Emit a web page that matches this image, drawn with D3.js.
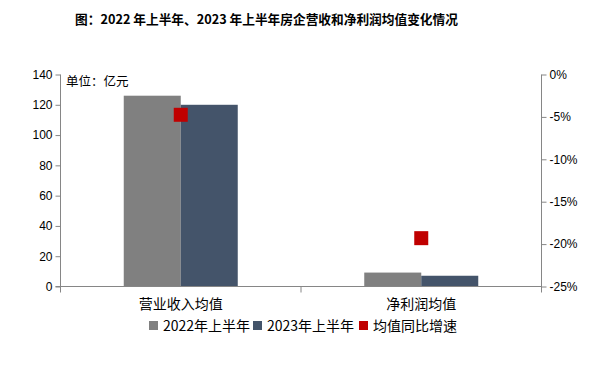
<!DOCTYPE html>
<html><head><meta charset="utf-8">
<script src="https://cdn.jsdelivr.net/npm/d3@7"></script>
<style>
body{margin:0;background:#fff;}
text{font-family:"Liberation Sans","Noto Sans CJK SC",sans-serif;}
</style></head>
<body><svg id="c" width="596" height="367"></svg>
<script>
const categories = ["营业收入均值", "净利润均值"];
const series2022 = [126, 9.2];
const series2023 = [120, 7.1];
const growth = [-4.75, -19.3];
const leftTicks = [0, 20, 40, 60, 80, 100, 120, 140];
const rightTicks = [0, -5, -10, -15, -20, -25];
const seriesNames = ["2022年上半年", "2023年上半年", "均值同比增速"];
const colors = ["#808080", "#44546A", "#C00000"];

const svg = d3.select("#c");
const L = 60.5, R = 541.5, T = 74.5, B = 286.5;
const axisColor = "#868686";
const font = '"Liberation Sans","Noto Sans CJK SC",sans-serif';

svg.append("text").attr("x", 266.5).attr("y", 24).attr("text-anchor", "middle")
  .attr("font-size", 12.7).attr("font-weight", "bold").attr("fill", "#000")
  .style("font-family", '"Noto Sans CJK SC",sans-serif')
  .text("图：2022 年上半年、2023 年上半年房企营收和净利润均值变化情况");

const x = d3.scaleBand().domain(categories).range([L, R]);
const yL = d3.scaleLinear().domain([0, 140]).range([B, T]);
const yR = d3.scaleLinear().domain([-25, 0]).range([B, T]);
const bw = 57;

// bars
const g = svg.append("g");
[series2022, series2023].forEach((s, i) => {
  g.selectAll(null).data(categories).enter().append("rect")
    .attr("x", d => x(d) + x.bandwidth() / 2 - bw + i * bw)
    .attr("width", bw)
    .attr("y", (d, j) => yL(s[j]))
    .attr("height", (d, j) => B - yL(s[j]))
    .attr("fill", colors[i]);
});

// left axis
const ax = svg.append("g").attr("transform", `translate(${L},0)`)
  .call(d3.axisLeft(yL).tickValues(leftTicks).tickSize(5).tickPadding(3));
ax.select(".domain").attr("stroke", axisColor).attr("d", `M-0,${T}V${B}`);
ax.selectAll(".tick line").attr("stroke", axisColor);
ax.selectAll(".tick text").attr("font-size", 12).attr("fill", "#000").style("font-family", font);

// right axis
const ar = svg.append("g").attr("transform", `translate(${R},0)`)
  .call(d3.axisRight(yR).tickValues(rightTicks).tickSize(5).tickPadding(3).tickFormat(d => d + "%"));
ar.select(".domain").attr("stroke", axisColor).attr("d", `M0,${T}V${B + 6}`);
ar.selectAll(".tick line").attr("stroke", axisColor);
ar.selectAll(".tick text").attr("font-size", 12).attr("fill", "#000").style("font-family", font);

// x axis
svg.append("line").attr("x1", L - 5).attr("x2", R).attr("y1", B).attr("y2", B).attr("stroke", axisColor);
svg.append("line").attr("x1", L).attr("x2", L).attr("y1", B).attr("y2", B + 6).attr("stroke", axisColor);
svg.append("line").attr("x1", x(categories[1])).attr("x2", x(categories[1])).attr("y1", B).attr("y2", B + 6).attr("stroke", axisColor);

svg.selectAll(null).data(categories).enter().append("text")
  .attr("x", d => x(d) + x.bandwidth() / 2).attr("y", 309)
  .attr("text-anchor", "middle").attr("font-size", 14).attr("fill", "#000")
  .style("font-family", '"Noto Sans CJK SC",sans-serif')
  .text(d => d);

// markers
const ms = 14;
svg.selectAll(null).data(categories).enter().append("rect")
  .attr("x", d => x(d) + x.bandwidth() / 2 - ms / 2)
  .attr("y", (d, i) => yR(growth[i]) - ms / 2)
  .attr("width", ms).attr("height", ms).attr("fill", colors[2]);

// unit label
svg.append("text").attr("x", 66).attr("y", 86).attr("font-size", 12.5).attr("fill", "#000")
  .style("font-family", '"Noto Sans CJK SC",sans-serif').text("单位：亿元");

// legend
const legX = [149, 253, 359];
seriesNames.forEach((n, i) => {
  svg.append("rect").attr("x", legX[i]).attr("y", 321).attr("width", 9).attr("height", 9).attr("fill", colors[i]);
  svg.append("text").attr("x", legX[i] + 14).attr("y", 330.5).attr("font-size", 14).attr("fill", "#000")
    .style("font-family", '"Noto Sans CJK SC",sans-serif').text(n);
});
</script></body></html>
